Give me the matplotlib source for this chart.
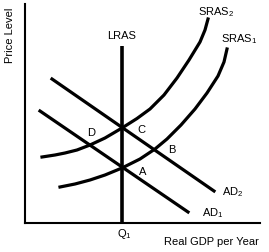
import matplotlib
matplotlib.use('Agg')
import matplotlib.pyplot as plt

plt.rcParams['font.family'] = ['Liberation Sans', 'DejaVu Sans']
plt.rcParams['mathtext.fontset'] = 'custom'
plt.rcParams['mathtext.rm'] = 'Liberation Sans'
plt.rcParams['mathtext.it'] = 'Liberation Sans'

# curves (x = real GDP, y = price level)
q1 = 97
lras_top = 177

ad1_x = [15, 163]
ad1_y = [112, 11]
ad2_x = [27, 189]
ad2_y = [144, 32]

sras1_x = [35, 50, 65, 80, 97, 115, 130, 142, 156, 170, 182, 193, 199, 202]
sras1_y = [36, 39, 43, 48, 55, 64, 74, 84, 98, 114, 130, 147, 161, 174]
sras2_x = [17, 30, 40, 52, 65, 80, 97, 112, 125, 139, 152, 164, 175, 180, 183]
sras2_y = [66, 68, 70, 73, 78, 85, 95, 104.5, 114, 128, 145, 163, 181, 193, 204]

points = {'A': (118, 52), 'B': (147, 74), 'C': (116, 94), 'D': (66, 91)}

fig = plt.figure(figsize=(2.69, 2.53), dpi=100)
ax = fig.add_axes([25/269, 29/253, 235/269, 219/253])
ax.set_xlim(0, 235)
ax.set_ylim(0, 219)
for s in ['top', 'right']:
    ax.spines[s].set_visible(False)
for s in ['left', 'bottom']:
    ax.spines[s].set_linewidth(1.5)
ax.set_xticks([])
ax.set_yticks([])

lw = 2.3
ax.plot([q1, q1], [0, lras_top], color='black', lw=2.6, solid_capstyle='butt')
ax.plot(ad1_x, ad1_y, color='black', lw=lw)
ax.plot(ad2_x, ad2_y, color='black', lw=lw)
ax.plot(sras1_x, sras1_y, color='black', lw=lw)
ax.plot(sras2_x, sras2_y, color='black', lw=lw)

fs = 8
ax.text(q1, 188, 'LRAS', fontsize=fs, ha='center', va='center')
ax.text(191, 212, 'SRAS$_2$', fontsize=fs, ha='center', va='center', clip_on=False)
ax.text(214, 185, 'SRAS$_1$', fontsize=fs, ha='center', va='center')
ax.text(197, 32, 'AD$_2$', fontsize=fs, ha='left', va='center')
ax.text(177, 11, 'AD$_1$', fontsize=fs, ha='left', va='center')
for k, (x, y) in points.items():
    ax.text(x, y, k, fontsize=fs, ha='center', va='center')
ax.text(q1 + 2, -10, 'Q$_1$', fontsize=fs, ha='center', va='center', clip_on=False)
ax.text(186, -18, 'Real GDP per Year', fontsize=fs, ha='center', va='center', clip_on=False)
ax.text(-15, 189, 'Price Level', fontsize=fs, ha='center', va='center', rotation=90, clip_on=False)

fig.savefig('out.png', dpi=100)
